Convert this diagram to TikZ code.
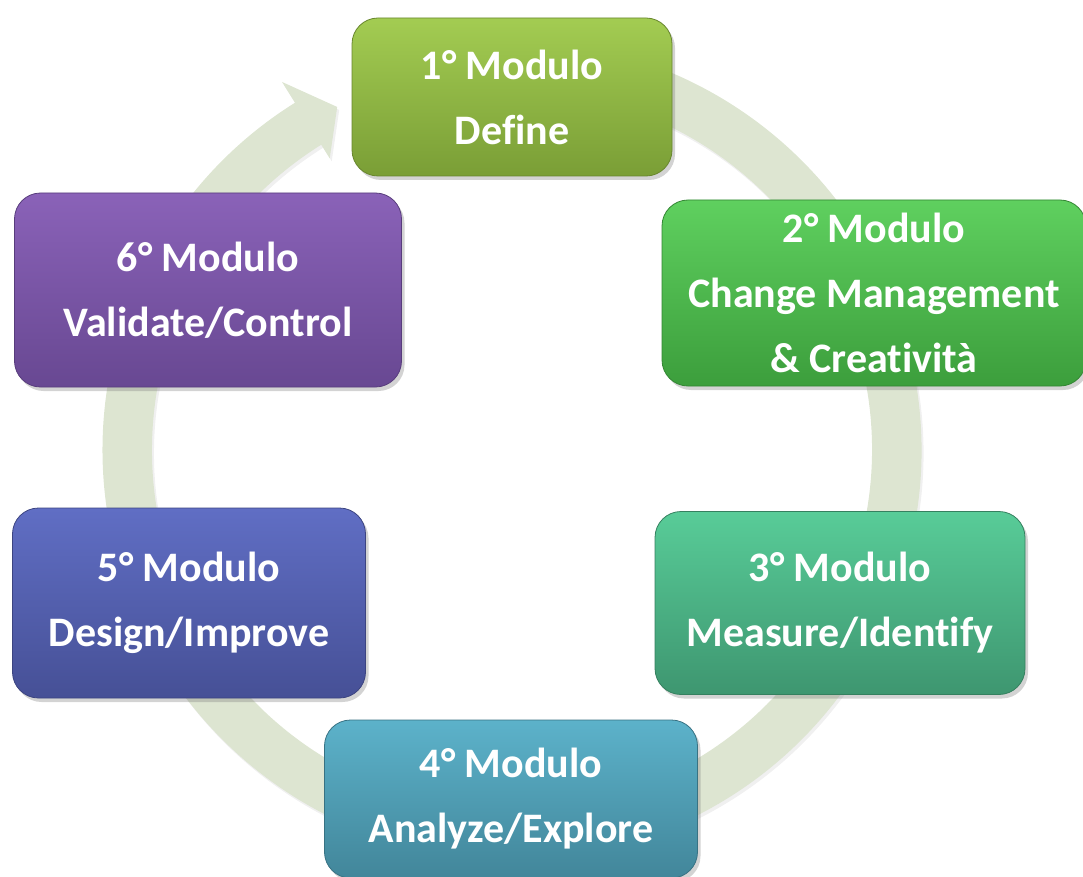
\documentclass[tikz,border=0pt]{standalone}
\usepackage{fontspec}
\setmainfont{Carlito}[Ligatures=NoCommon]
\usetikzlibrary{shadows}

\definecolor{ringgreen}{RGB}{221,229,209}
\definecolor{m1top}{RGB}{163,204,82}
\definecolor{m1bot}{RGB}{122,158,54}
\definecolor{m2top}{RGB}{95,208,95}
\definecolor{m2bot}{RGB}{60,158,60}
\definecolor{m3top}{RGB}{88,204,152}
\definecolor{m3bot}{RGB}{62,150,112}
\definecolor{m4top}{RGB}{92,178,202}
\definecolor{m4bot}{RGB}{66,134,154}
\definecolor{m5top}{RGB}{96,110,196}
\definecolor{m5bot}{RGB}{70,80,150}
\definecolor{m6top}{RGB}{138,98,184}
\definecolor{m6bot}{RGB}{104,72,146}

\tikzset{
  modulo/.style={rounded corners=26pt, draw=m#1bot!85!black, line width=0.8pt,
    top color=m#1top, bottom color=m#1bot, text=white,
    font=\fontsize{42}{65}\selectfont\bfseries, align=center, inner sep=0pt,
    drop shadow={opacity=0.35, shadow xshift=3pt, shadow yshift=-4pt}},
}

\begin{document}
\begin{tikzpicture}[x=1pt,y=1pt]
    \pgfmathsetmacro{\ringout}{409.5}
    \pgfmathsetmacro{\ringin}{360}
    \pgfmathsetmacro{\ringmid}{385}
    \useasboundingbox (0,0) rectangle (1083,-877);
    % ring arrow behind the boxes
    \begin{scope}[shift={(512,-450)}]
        \fill[ringgreen, drop shadow={opacity=0.12, shadow xshift=2pt, shadow yshift=-3pt}]
            (100:\ringout) arc[start angle=100, end angle=-238, radius=\ringout]
            -- (-238:434) -- (-243:\ringmid) -- (-238:344)
            -- (-238:\ringin) arc[start angle=-238, end angle=100, radius=\ringin] -- cycle;
    \end{scope}
    \node[modulo=1, minimum width=320, minimum height=158] (m1) at (512,-97) {1° Modulo\\Define};
    \node[modulo=2, minimum width=424, minimum height=186] (m2) at (874,-293) {2° Modulo\\Change Management\\\& Creatività};
    \node[modulo=3, minimum width=370, minimum height=183] (m3) at (840,-603) {3° Modulo\\Measure/Identify};
    \node[modulo=4, minimum width=373, minimum height=158] (m4) at (511,-799) {4° Modulo\\Analyze/Explore};
    \node[modulo=5, minimum width=353, minimum height=190] (m5) at (189,-603) {5° Modulo\\Design/Improve};
    \node[modulo=6, minimum width=387, minimum height=194] (m6) at (208,-290) {6° Modulo\\Validate/Control};
\end{tikzpicture}
\end{document}
